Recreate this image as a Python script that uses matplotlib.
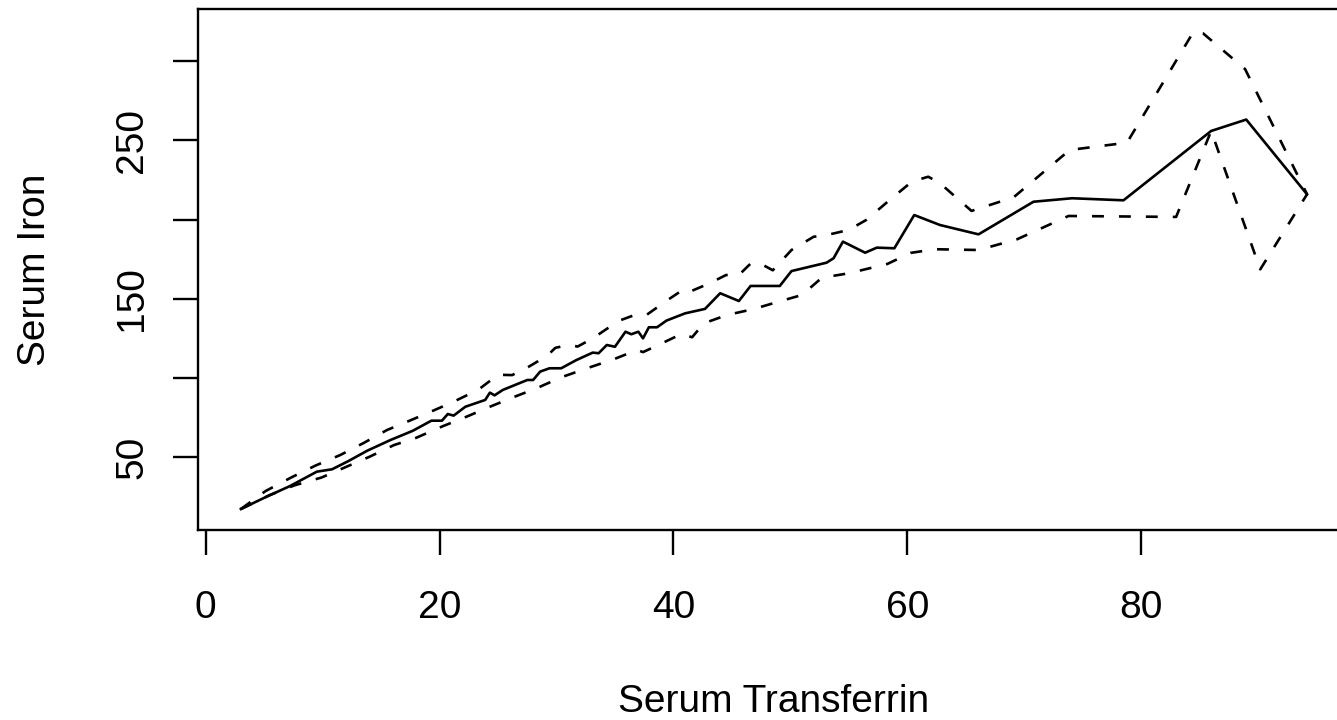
import numpy as np
import matplotlib.pyplot as plt

# fitted curve (solid)
fit_x = [3.0, 5.2, 7.2, 9.5, 10.8, 12.2, 13.8, 15.8, 17.7, 19.3, 20.2, 20.7, 21.2,
         22.2, 23.9, 24.3, 24.7, 25.4, 27.5, 28.0, 28.6, 29.4, 30.4, 31.7, 33.1,
         33.6, 34.3, 35.0, 35.9, 36.4, 37.0, 37.4, 37.9, 38.6, 39.4, 41.0, 42.7,
         44.0, 45.6, 46.6, 49.1, 50.1, 53.1, 53.7, 54.5, 56.4, 57.4, 58.9, 60.6,
         62.8, 66.1, 70.8, 74.1, 78.5, 86.0, 89.0, 94.2]
fit_y = [17.2, 25.0, 31.7, 40.8, 42.3, 47.5, 54.0, 60.8, 66.6, 73.0, 73.0, 77.2, 76.2,
         81.8, 86.1, 90.7, 89.0, 92.4, 98.7, 98.7, 104.0, 106.1, 106.1, 111.3, 116.0,
         115.6, 120.8, 119.7, 129.2, 127.6, 129.2, 125.0, 132.0, 132.0, 136.2, 140.8, 143.6,
         153.5, 148.6, 158.1, 158.1, 167.5, 172.8, 175.6, 186.1, 179.1, 182.3, 181.9, 202.9,
         196.6, 190.7, 211.3, 213.5, 212.2, 256.0, 263.2, 216.0]

# upper band (dashed)
upper_x = [3.0, 5.1, 7.3, 9.4, 11.5, 13.5, 15.5, 17.5, 19.5, 21.2, 23.3, 25.0, 26.2,
           27.4, 29.2, 29.9, 31.1, 31.8, 33.1, 35.3, 36.7, 37.7, 39.6, 41.0, 41.6,
           43.1, 44.5, 45.6, 46.6, 47.4, 48.5, 50.1, 52.0, 52.8, 55.0, 56.5, 58.5,
           60.4, 61.8, 62.8, 65.5, 69.1, 73.9, 78.8, 84.5, 85.3, 88.9, 94.2]
upper_y = [17.2, 28.5, 37.1, 44.7, 51.3, 58.9, 67.1, 73.2, 79.5, 85.0, 92.5, 102.0, 101.8,
           106.1, 114.0, 119.0, 121.0, 119.8, 125.0, 136.0, 139.8, 139.8, 149.7, 156.6, 155.1,
           159.8, 165.0, 165.0, 172.2, 172.4, 168.0, 180.8, 189.2, 189.7, 193.5, 199.8, 212.4,
           224.0, 227.1, 223.0, 205.5, 214.1, 244.0, 248.6, 318.8, 317.7, 295.1, 216.0]

# lower band (dashed)
lower_x = [3.0, 5.5, 7.6, 9.9, 12.0, 14.0, 16.1, 18.0, 20.3, 22.3, 24.3, 26.3, 28.3,
           30.4, 32.6, 34.9, 36.9, 37.4, 38.7, 40.7, 41.6, 42.6, 44.6, 46.8, 49.1,
           51.0, 52.7, 55.0, 58.3, 60.3, 62.4, 66.1, 69.4, 73.8, 83.0, 86.0, 90.2, 94.2]
lower_y = [17.2, 26.1, 32.2, 37.1, 43.8, 50.2, 57.6, 62.2, 69.6, 75.5, 81.8, 87.8, 93.5,
           100.4, 106.1, 111.8, 117.7, 116.3, 120.8, 127.8, 125.7, 134.5, 139.8, 143.4, 148.4,
           152.4, 163.3, 166.1, 172.0, 179.0, 181.3, 180.8, 187.6, 202.3, 201.7, 256.0, 168.6, 216.0]

x_ticks = [0, 20, 40, 60, 80]
y_ticks = [50, 100, 150, 200, 250, 300]
y_labels = ['50', '', '150', '', '250', '']

plt.rcParams['font.family'] = ['Liberation Sans', 'DejaVu Sans']
plt.rcParams['font.size'] = 28

W, H = 1337, 720
fig = plt.figure(figsize=(W / 100, H / 100), dpi=100)
# box runs past the right edge of the canvas
ax = fig.add_axes([198.2 / W, (H - 530.4) / H, (1349.7 - 198.2) / W, (530.4 - 8.9) / H])

lw = 1.9
dash = (4.5, 5.7)
ax.plot(fit_x, fit_y, color='black', lw=lw, solid_joinstyle='round')
ax.plot(upper_x, upper_y, color='black', lw=lw, dashes=dash,
        dash_capstyle='butt', dash_joinstyle='round')
ax.plot(lower_x, lower_y, color='black', lw=lw, dashes=dash,
        dash_capstyle='butt', dash_joinstyle='round')

ax.set_xlim(-0.65, 97.85)
ax.set_ylim(3.7, 333.1)
ax.set_xticks(x_ticks)
ax.set_yticks(y_ticks, y_labels, rotation=90, va='center')
ax.tick_params(direction='out', length=18, width=1.7, color='black')
ax.tick_params(axis='x', pad=25)
ax.tick_params(axis='y', pad=16.5)
for s in ax.spines.values():
    s.set_linewidth(1.7)

ax.set_xlabel('Serum Transferrin', labelpad=42)
ax.set_ylabel('Serum Iron', labelpad=44)

fig.savefig('out.png', dpi=100)
